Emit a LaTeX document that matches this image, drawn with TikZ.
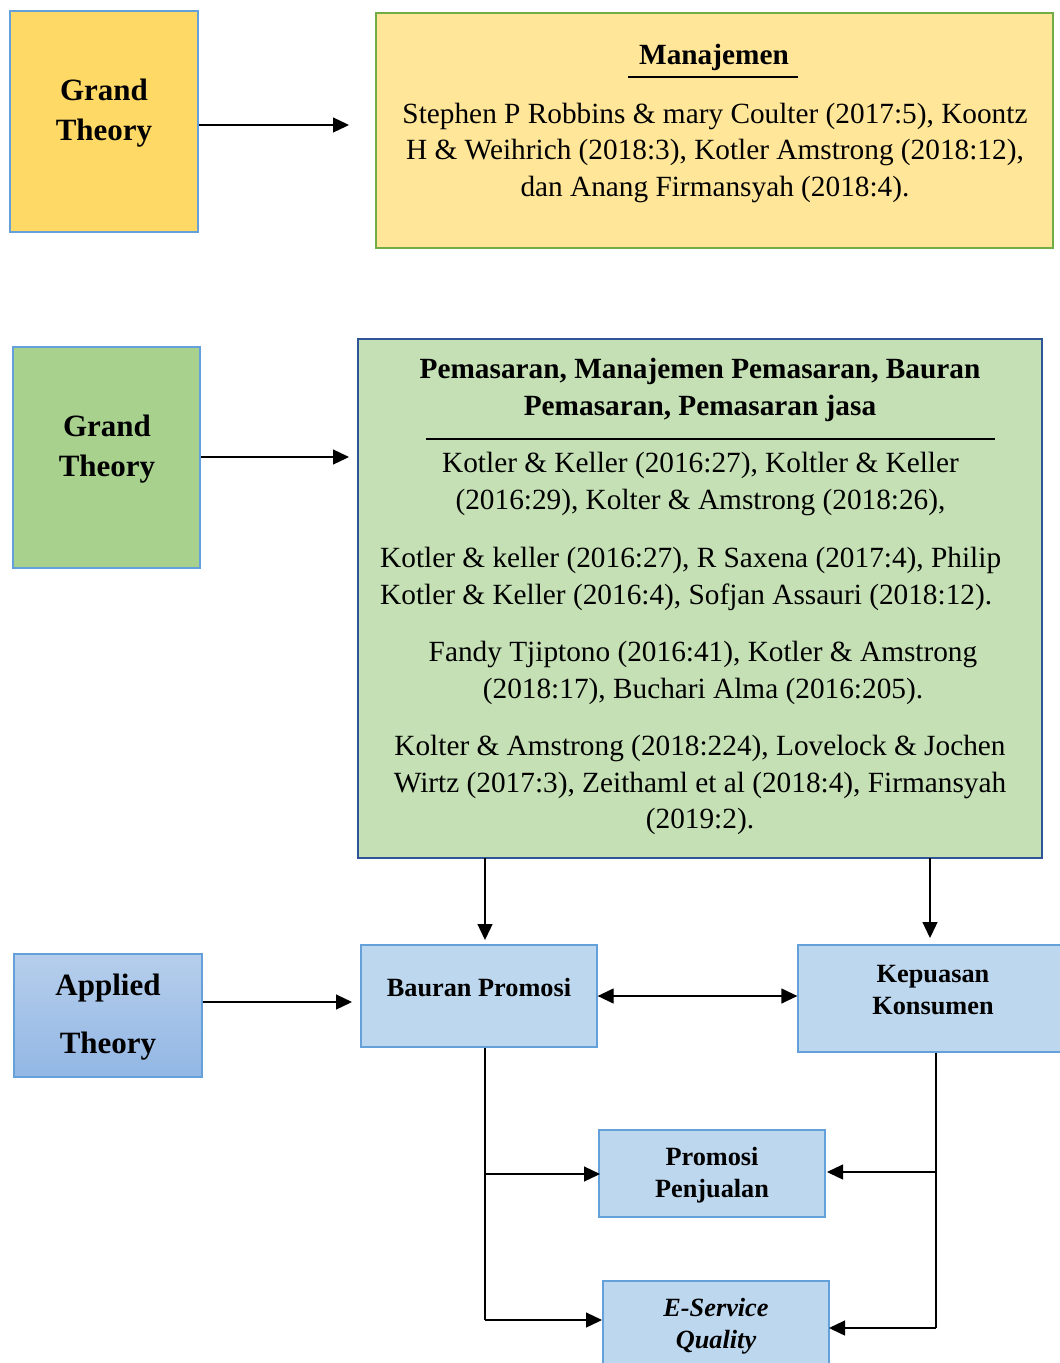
\documentclass[tikz,border=0pt]{standalone}
\usepackage{fontspec}
\setmainfont{Liberation Serif}
\usetikzlibrary{arrows.meta}
\definecolor{cGold}{RGB}{255,217,102}
\definecolor{cPaleY}{RGB}{255,230,153}
\definecolor{cGreenA}{RGB}{169,209,142}
\definecolor{cGreenB}{RGB}{197,224,180}
\definecolor{cBlueF}{RGB}{189,215,238}
\definecolor{cBord}{RGB}{100,160,218}
\definecolor{cGBord}{RGB}{112,173,71}
\definecolor{cDBord}{RGB}{47,85,151}
\definecolor{cApTop}{RGB}{182,206,236}
\definecolor{cApBot}{RGB}{146,183,228}
\newcommand\fgt{\fontsize{31}{40}\selectfont\bfseries}
\newcommand\fgtap{\fontsize{31}{58}\selectfont\bfseries}
\newcommand\fbody{\fontsize{29.3}{36.5}\selectfont}
\newcommand\fhead{\fontsize{29.3}{36.5}\selectfont\bfseries}
\newcommand\fsub{\fontsize{26.3}{32}\selectfont\bfseries}
\begin{document}
\begin{tikzpicture}[x=1pt,y=-1pt,
  boxsh/.style={draw=cBord, line width=1.3pt, inner sep=0pt, anchor=center},
  txt/.style={inner sep=0pt, align=center},
  arr/.style={line width=1.3pt, -{Triangle[length=16pt,width=15pt]}},
  dblarr/.style={line width=1.3pt, {Triangle[length=16pt,width=15pt]}-{Triangle[length=16pt,width=15pt]}},
  plain/.style={line width=1.3pt}]
\useasboundingbox[fill=white] (0,0) rectangle (1060,1363);

% ---- top row
\node[boxsh, fill=cGold, minimum width=188pt, minimum height=221pt] (gt1) at (104,121.5) {};
\node[txt, font=\fgt] (gt1t) at (104,113) {Grand\\Theory};
\node[draw=cGBord, line width=2pt, fill=cPaleY, inner sep=0pt, minimum width=677pt, minimum height=235pt] (man) at (714.5,130.5) {};
\node[txt, font=\fhead] (mant) at (714,57) {Manajemen};
\coordinate (ulA) at (628,77);
\coordinate (ulB) at (798,77);
\draw[line width=1.2pt] (ulA) -- (ulB);
\node[txt, font=\fbody] (manb) at (715,152.5) {Stephen P Robbins \& mary Coulter (2017:5), Koontz\\H \& Weihrich (2018:3), Kotler Amstrong (2018:12),\\dan Anang Firmansyah (2018:4).};
\coordinate (a1) at (349,125);
\draw[arr] (gt1.east |- a1) -- (a1);

% ---- middle row
\node[boxsh, fill=cGreenA, minimum width=187pt, minimum height=221pt] (gt2) at (106.5,457.5) {};
\node[txt, font=\fgt] (gt2t) at (107,449.5) {Grand\\Theory};
\node[draw=cDBord, line width=2.2pt, fill=cGreenB, inner sep=0pt, minimum width=684pt, minimum height=519pt] (pem) at (700,598.5) {};
\node[txt, font=\fhead] (pemt) at (700,390) {Pemasaran, Manajemen Pemasaran, Bauran\\Pemasaran, Pemasaran jasa};
\coordinate (rlA) at (426,439);
\coordinate (rlB) at (995,439);
\draw[line width=1.2pt] (rlA) -- (rlB);
\node[txt, font=\fbody] (p1) at (700.5,484) {Kotler \& Keller (2016:27), Koltler \& Keller\\(2016:29), Kolter \& Amstrong (2018:26),};
\node[txt, font=\fbody, align=left, anchor=west] (p2) at (380,579) {Kotler \& keller (2016:27), R Saxena (2017:4), Philip\\Kotler \& Keller (2016:4), Sofjan Assauri (2018:12).};
\node[txt, font=\fbody] (p3) at (703,673) {Fandy Tjiptono (2016:41), Kotler \& Amstrong\\(2018:17), Buchari Alma (2016:205).};
\node[txt, font=\fbody] (p4) at (700,785) {Kolter \& Amstrong (2018:224), Lovelock \& Jochen\\Wirtz (2017:3), Zeithaml et al (2018:4), Firmansyah\\(2019:2).};
\coordinate (a2) at (349,457);
\draw[arr] (gt2.east |- a2) -- (a2);

% ---- bottom
\node[boxsh, top color=cApTop, bottom color=cApBot, minimum width=188pt, minimum height=123pt] (ap) at (108,1015.5) {};
\node[txt, font=\fgtap] (apt) at (108,1017) {Applied\\Theory};
\node[boxsh, fill=cBlueF, minimum width=236pt, minimum height=102pt] (bp) at (479,996) {};
\node[txt, font=\fsub] (bpt) at (479,988) {Bauran Promosi};
\node[boxsh, fill=cBlueF, minimum width=272pt, minimum height=107pt] (kk) at (934,998.5) {};
\node[txt, font=\fsub] (kkt) at (933,990) {Kepuasan\\Konsumen};
\node[boxsh, fill=cBlueF, minimum width=226pt, minimum height=87pt] (pp) at (712,1173.5) {};
\node[txt, font=\fsub] (ppt) at (712,1175) {Promosi\\Penjualan};
\node[boxsh, fill=cBlueF, minimum width=226pt, minimum height=90pt] (es) at (716,1326) {};
\node[txt, font=\fsub\itshape] (est) at (716,1326) {E-Service\\Quality};

\coordinate (d1s) at (485,858);
\coordinate (d1e) at (485,940);
\draw[arr] (d1s) -- (d1e);
\coordinate (d2s) at (930,858);
\coordinate (d2e) at (930,938);
\draw[arr] (d2s) -- (d2e);
\coordinate (a3) at (352,1002);
\draw[arr] (ap.east |- a3) -- (a3);
\coordinate (dy) at (0,996);
\draw[dblarr] (bp.east |- dy) -- (kk.west |- dy);

\coordinate (lb1) at (485,1174);
\coordinate (lb2) at (485,1320);
\draw[plain] (bp.south -| lb1) -- (lb2);
\coordinate (pl) at (600,1174);
\coordinate (el) at (602,1320);
\draw[arr] (lb1) -- (pl);
\draw[arr] (lb2) -- (el);
\coordinate (rb1) at (936,1172);
\coordinate (rb2) at (936,1328);
\draw[plain] (kk.south -| rb1) -- (rb2);
\coordinate (pr) at (827,1172);
\coordinate (er) at (829,1328);
\draw[arr] (rb1) -- (pr);
\draw[arr] (rb2) -- (er);
\end{tikzpicture}
\end{document}
